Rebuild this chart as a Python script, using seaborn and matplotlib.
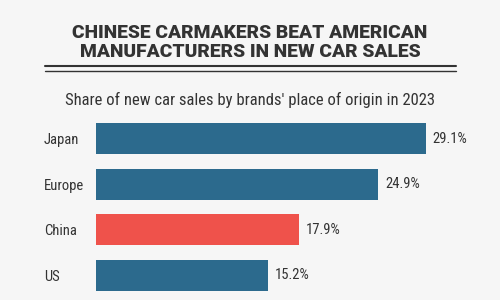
import matplotlib
matplotlib.use("Agg")
import matplotlib.pyplot as plt
from matplotlib import font_manager
from matplotlib.lines import Line2D
import seaborn as sns
import pandas as pd

categories = ["Japan", "Europe", "China", "US"]
shares = [29.1, 24.9, 17.9, 15.2]
value_labels = ["29.1%", "24.9%", "17.9%", "15.2%"]
title_text = "CHINESE CARMAKERS BEAT AMERICAN\nMANUFACTURERS IN NEW CAR SALES"
subtitle_text = "Share of new car sales by brands' place of origin in 2023"

BLUE = "#2c6a8d"
RED = "#ef524b"
BG = "#f6f6f6"
TXT = "#333333"

names = {f.name for f in font_manager.fontManager.ttflist}
narrow = None
for cand in ["Roboto Condensed", "Liberation Sans Narrow", "Open Sans Condensed", "DejaVu Sans"]:
    if cand in names:
        narrow = cand
        break
heavy = "Roboto" if "Roboto" in names else "DejaVu Sans"

sns.set_theme(style="white")
plt.rcParams["font.family"] = [narrow, "DejaVu Sans"]

df = pd.DataFrame({"origin": categories, "share": shares})
df["grp"] = ["other", "other", "china", "other"]

fig = plt.figure(figsize=(5, 3), dpi=100)
fig.patch.set_facecolor(BG)

W, H = 500, 300
ax_left, ax_right = 96, 476
ax_top, ax_bot = 115.7, 298.3
ax = fig.add_axes([ax_left / W, 1 - ax_bot / H, (ax_right - ax_left) / W, (ax_bot - ax_top) / H])
ax.set_facecolor(BG)

sns.barplot(data=df, x="share", y="origin", hue="grp", palette={"other": BLUE, "china": RED},
            order=categories, width=0.68, dodge=False, legend=False, ax=ax, saturation=1,
            linewidth=0, edgecolor="none")

px_per_unit = 11.34
ax.set_xlim(0, (ax_right - ax_left) / px_per_unit)
ax.set_ylim(3.5, -0.5)
for s in ax.spines.values():
    s.set_visible(False)
ax.set_xticks([])
ax.set_xlabel("")
ax.set_ylabel("")
ax.tick_params(axis="y", length=0, pad=37.5)
for lbl in ax.get_yticklabels():
    lbl.set_ha("left")
    lbl.set_fontsize(10.5)
    lbl.set_color(TXT)

for i, (v, t) in enumerate(zip(shares, value_labels)):
    ax.text(v + 0.6, i, t, va="center", ha="left", fontsize=10.5, color=TXT)

fig.text(0.5, 1 - 42.5 / H, title_text, ha="center", va="center", fontsize=13.9,
         fontweight="black", family=[heavy, "DejaVu Sans"], color=TXT, linespacing=1.12)
fig.add_artist(Line2D([45 / W, 456 / W], [1 - 66 / H, 1 - 66 / H], color=TXT, lw=1.5))
fig.add_artist(Line2D([45 / W, 456 / W], [1 - 70.5 / H, 1 - 70.5 / H], color=TXT, lw=1.0))
fig.text(0.5, 1 - 100 / H, subtitle_text, ha="center", va="center", fontsize=12.0, color=TXT)

fig.savefig("out.png", dpi=100, facecolor=BG)
